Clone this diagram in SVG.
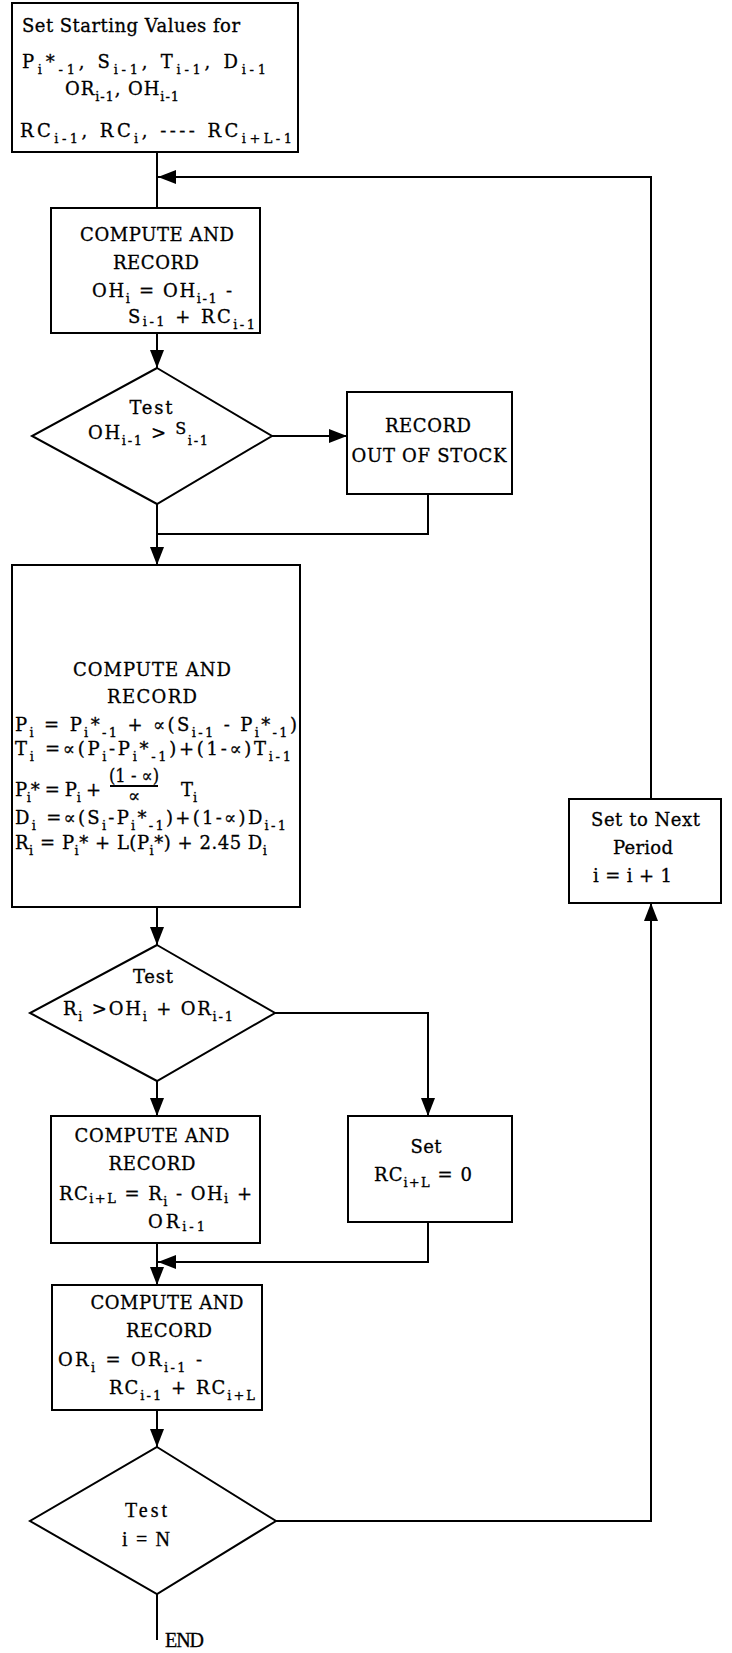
<svg xmlns="http://www.w3.org/2000/svg" width="732" height="1653" viewBox="0 0 732 1653">
<style>
.t{font-family:"DejaVu Serif","Liberation Serif",serif;font-size:18px;fill:#000;stroke:#000;stroke-width:0.3}
.c{text-anchor:middle}
.s{font-size:13px}
.r{font-family:"Liberation Serif",serif;font-size:20px;fill:#000;stroke:#000;stroke-width:0.3}
.box{fill:#fff;stroke:#000;stroke-width:2}
.ln{fill:none;stroke:#000;stroke-width:2}
</style>
<defs>
<marker id="ah" viewBox="0 0 18 14" markerWidth="18" markerHeight="14" refX="18" refY="7" orient="auto" markerUnits="userSpaceOnUse"><path d="M0,0 L18,7 L0,14 z" fill="#000"/></marker>
</defs>
<rect width="732" height="1653" fill="#fff"/>

<g id="connectors">
<path class="ln" d="M157,152 V208"/>
<path class="ln" d="M651,799 V177 H158" marker-end="url(#ah)"/>
<path class="ln" d="M157,333 V368" marker-end="url(#ah)"/>
<path class="ln" d="M272,436 H347" marker-end="url(#ah)"/>
<path class="ln" d="M428,494 V534 H157"/>
<path class="ln" d="M157,504 V565" marker-end="url(#ah)"/>
<path class="ln" d="M157,907 V945" marker-end="url(#ah)"/>
<path class="ln" d="M275,1013 H428 V1116" marker-end="url(#ah)"/>
<path class="ln" d="M157,1081 V1116" marker-end="url(#ah)"/>
<path class="ln" d="M428,1222 V1262 H158" marker-end="url(#ah)"/>
<path class="ln" d="M157,1243 V1285" marker-end="url(#ah)"/>
<path class="ln" d="M157,1410 V1447" marker-end="url(#ah)"/>
<path class="ln" d="M275,1521 H651 V903" marker-end="url(#ah)"/>
<path class="ln" d="M157,1594 V1640"/>
</g>

<g id="start">
<rect class="box" x="12" y="3" width="286" height="149"/>
<text class="t" x="22" y="32" textLength="218">Set Starting Values for</text>
<text class="t" x="22" y="68" textLength="244">P<tspan class="s" dy="6">i</tspan><tspan dy="-6">*</tspan><tspan class="s" dy="6">-1</tspan><tspan dy="-6">, S</tspan><tspan class="s" dy="6">i-1</tspan><tspan dy="-6">, T</tspan><tspan class="s" dy="6">i-1</tspan><tspan dy="-6">, D</tspan><tspan class="s" dy="6">i-1</tspan></text>
<text class="t" x="65" y="95" textLength="114">OR<tspan class="s" dy="6">i-1</tspan><tspan dy="-6">, OH</tspan><tspan class="s" dy="6">i-1</tspan></text>
<text class="t" x="20" y="137" textLength="272">RC<tspan class="s" dy="6">i-1</tspan><tspan dy="-6">, RC</tspan><tspan class="s" dy="6">i</tspan><tspan dy="-6">, ---- RC</tspan><tspan class="s" dy="6">i+L-1</tspan></text>
</g>

<g id="compute-oh">
<rect class="box" x="51" y="208" width="209" height="125"/>
<text class="t c" x="157" y="241" textLength="154">COMPUTE AND</text>
<text class="t c" x="156" y="269" textLength="86">RECORD</text>
<text class="t" x="92" y="297" textLength="140">OH<tspan class="s" dy="6">i</tspan><tspan dy="-6"> = OH</tspan><tspan class="s" dy="6">i-1</tspan><tspan dy="-6"> -</tspan></text>
<text class="t" x="128" y="323" textLength="127">S<tspan class="s" dy="3">i-1</tspan><tspan dy="-3"> + RC</tspan><tspan class="s" dy="6">i-1</tspan></text>
</g>

<g id="test-oh">
<polygon class="box" points="157,368 272,436 157,504 32,436"/>
<text class="t c" x="151" y="414" textLength="43">Test</text>
<text class="t" x="88" y="439" textLength="120">OH<tspan class="s" dy="6">i-1</tspan><tspan dy="-6"> &gt; </tspan><tspan dy="-5" font-size="16">S</tspan><tspan class="s" dy="11">i-1</tspan></text>
</g>

<g id="out-of-stock">
<rect class="box" x="347" y="392" width="165" height="102"/>
<text class="t c" x="428" y="432" textLength="86">RECORD</text>
<text class="t c" x="429" y="462" textLength="155">OUT OF STOCK</text>
</g>

<g id="compute-forecast">
<rect class="box" x="12" y="565" width="288" height="342"/>
<text class="t c" x="152" y="676" textLength="158">COMPUTE AND</text>
<text class="t c" x="152" y="703" textLength="90">RECORD</text>
<text class="t" x="15" y="731" textLength="282">P<tspan class="s" dy="6">i</tspan><tspan dy="-6"> = P</tspan><tspan class="s" dy="6">i</tspan><tspan dy="-6">*</tspan><tspan class="s" dy="6">-1</tspan><tspan dy="-6"> + ∝(S</tspan><tspan class="s" dy="6">i-1</tspan><tspan dy="-6"> - P</tspan><tspan class="s" dy="6">i</tspan><tspan dy="-6">*</tspan><tspan class="s" dy="6">-1</tspan><tspan dy="-6">)</tspan></text>
<text class="t" x="15" y="755" textLength="276">T<tspan class="s" dy="6">i</tspan><tspan dy="-6"> =∝(P</tspan><tspan class="s" dy="6">i</tspan><tspan dy="-6">-P</tspan><tspan class="s" dy="6">i</tspan><tspan dy="-6">*</tspan><tspan class="s" dy="6">-1</tspan><tspan dy="-6">)+(1-∝)T</tspan><tspan class="s" dy="6">i-1</tspan></text>
<text class="t" x="15" y="796" textLength="86">P<tspan class="s" dy="6">i</tspan><tspan dy="-6">* = P</tspan><tspan class="s" dy="6">i</tspan><tspan dy="-6"> +</tspan></text>
<text class="t c" x="134" y="782" font-size="16" textLength="50" lengthAdjust="spacingAndGlyphs">(1 - ∝)</text>
<line class="ln" x1="110" y1="786" x2="158" y2="786" stroke-width="1.6"/>
<text class="t c" x="134" y="802" font-size="17">∝</text>
<text class="t" x="181" y="796">T<tspan class="s" dy="6">i</tspan></text>
<text class="t" x="15" y="824" textLength="271">D<tspan class="s" dy="6">i</tspan><tspan dy="-6"> =∝(S</tspan><tspan class="s" dy="6">i</tspan><tspan dy="-6">-P</tspan><tspan class="s" dy="6">i</tspan><tspan dy="-6">*</tspan><tspan class="s" dy="6">-1</tspan><tspan dy="-6">)+(1-∝)D</tspan><tspan class="s" dy="6">i-1</tspan></text>
<text class="t" x="15" y="849" textLength="252">R<tspan class="s" dy="6">i</tspan><tspan dy="-6"> = P</tspan><tspan class="s" dy="6">i</tspan><tspan dy="-6">* + L(P</tspan><tspan class="s" dy="6">i</tspan><tspan dy="-6">*) + 2.45 D</tspan><tspan class="s" dy="6">i</tspan></text>
</g>

<g id="test-reorder">
<polygon class="box" points="157,945 275,1013 157,1081 30,1013"/>
<text class="t c" x="153" y="983" textLength="40">Test</text>
<text class="t" x="63" y="1015" textLength="170">R<tspan class="s" dy="6">i</tspan><tspan dy="-6"> &gt;OH</tspan><tspan class="s" dy="6">i</tspan><tspan dy="-6"> + OR</tspan><tspan class="s" dy="6">i-1</tspan></text>
</g>

<g id="compute-rc">
<rect class="box" x="51" y="1116" width="209" height="127"/>
<text class="t c" x="152" y="1142" textLength="155">COMPUTE AND</text>
<text class="t c" x="152" y="1170" textLength="87">RECORD</text>
<text class="t" x="59" y="1200" textLength="193">RC<tspan class="s" dy="3">i+L</tspan><tspan dy="-3"> = R</tspan><tspan class="s" dy="6">i</tspan><tspan dy="-6"> - OH</tspan><tspan class="s" dy="3">i</tspan><tspan dy="-3"> +</tspan></text>
<text class="t" x="148" y="1228" textLength="57">OR<tspan class="s" dy="3">i-1</tspan></text>
</g>

<g id="set-rc-zero">
<rect class="box" x="348" y="1116" width="164" height="106"/>
<text class="t c" x="426" y="1153" textLength="31">Set</text>
<text class="t" x="374" y="1181" textLength="98">RC<tspan class="s" dy="6">i+L</tspan><tspan dy="-6"> = 0</tspan></text>
</g>

<g id="compute-or">
<rect class="box" x="52" y="1285" width="210" height="125"/>
<text class="t c" x="167" y="1309" textLength="153">COMPUTE AND</text>
<text class="t c" x="169" y="1337" textLength="86">RECORD</text>
<text class="t" x="58" y="1366" textLength="144">OR<tspan class="s" dy="6">i</tspan><tspan dy="-6"> = OR</tspan><tspan class="s" dy="6">i-1</tspan><tspan dy="-6"> -</tspan></text>
<text class="t" x="109" y="1394" textLength="146">RC<tspan class="s" dy="6">i-1</tspan><tspan dy="-6"> + RC</tspan><tspan class="s" dy="6">i+L</tspan></text>
</g>

<g id="test-end">
<polygon class="box" points="157,1447 276,1521 157,1594 30,1521"/>
<text class="r c" x="146" y="1517" textLength="42">Test</text>
<text class="r c" x="146" y="1546" textLength="48">i = N</text>
<text class="r" x="165" y="1647" textLength="39">END</text>
</g>

<g id="next-period">
<rect class="box" x="569" y="799" width="152" height="104"/>
<text class="t" x="591" y="826" textLength="109">Set to Next</text>
<text class="t" x="613" y="854" textLength="60">Period</text>
<text class="t" x="593" y="882" textLength="79">i = i + 1</text>
</g>
</svg>
